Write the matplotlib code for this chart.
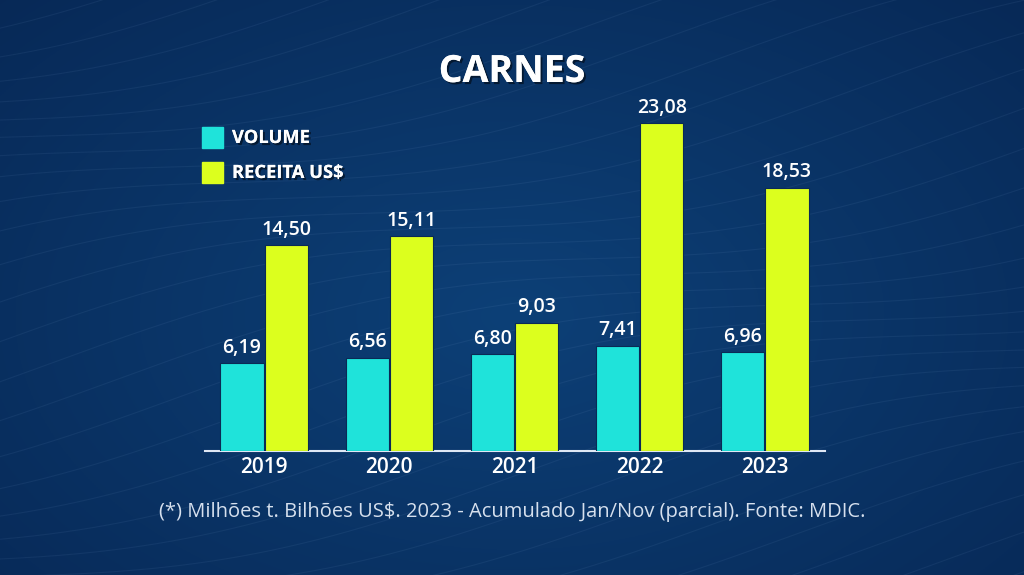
import numpy as np
import matplotlib
matplotlib.use("Agg")
import matplotlib.pyplot as plt
import matplotlib.patheffects as pe

years = ["2019", "2020", "2021", "2022", "2023"]
volume = [6.19, 6.56, 6.80, 7.41, 6.96]
receita = [14.50, 15.11, 9.03, 23.08, 18.53]
volume_labels = ["6,19", "6,56", "6,80", "7,41", "6,96"]
receita_labels = ["14,50", "15,11", "9,03", "23,08", "18,53"]
title = "CARNES"
legend_labels = ["VOLUME", "RECEITA US$"]
footer = "(*) Milhões t. Bilhões US$. 2023 - Acumulado Jan/Nov (parcial). Fonte: MDIC."

C_VOL = "#1fe3da"
C_REC = "#dcff1e"
FONT = ["Open Sans", "DejaVu Sans"]

W, H = 1024, 575
fig = plt.figure(figsize=(W / 100, H / 100), dpi=100)

# background gradient
bg = fig.add_axes([0, 0, 1, 1])
yy, xx = np.mgrid[0:1:300j, 0:1:500j]
r = np.sqrt(((xx - 0.5) / 0.85) ** 2 + ((yy - 0.45) / 0.95) ** 2)
c0 = np.array([0x0d, 0x40, 0x77]) / 255
c1 = np.array([0x06, 0x24, 0x50]) / 255
t = np.clip(r, 0, 1)[..., None]
img = c0 * (1 - t) + c1 * t
bg.imshow(img, extent=[0, 1, 0, 1], aspect="auto", origin="lower")
# subtle decorative wavy lines
xs = np.linspace(0, 1, 400)
for k in range(34):
    base = -0.4 + k * 0.05
    ys = base + 0.35 * xs + 0.05 * np.sin(xs * 6 + k * 0.4)
    bg.plot(xs, ys, color="#8fb3e0", alpha=0.08, lw=0.8)
bg.set_xlim(0, 1)
bg.set_ylim(0, 1)
bg.axis("off")

ax = fig.add_axes([205 / W, (H - 451) / H, 620 / W, 351 / H])
ax.patch.set_alpha(0)
x = np.arange(len(years))
bw = 0.345
off = 0.176
ax.bar(x - off, volume, width=bw, color=C_VOL, edgecolor="#0a2a55", linewidth=0.8, zorder=3)
ax.bar(x + off, receita, width=bw, color=C_REC, edgecolor="#0a2a55", linewidth=0.8, zorder=3)
ax.set_xlim(-0.472, 4.48)
ax.set_ylim(0, 351 / 14.2)
for s in ["top", "right", "left"]:
    ax.spines[s].set_visible(False)
ax.spines["bottom"].set_color("#dfe8f5")
ax.spines["bottom"].set_linewidth(1.5)
ax.set_yticks([])
ax.set_xticks(x)
ax.set_xticklabels(years, color="white", fontsize=15, fontweight="semibold", family=FONT)
ax.tick_params(axis="x", length=0, pad=4)

for xi, v, lab in zip(x - off, volume, volume_labels):
    ax.annotate(lab, (xi, v), xytext=(0, 4), textcoords="offset points", ha="center",
                va="bottom", color="white", fontsize=14, fontweight="semibold", family=FONT)
for xi, v, lab in zip(x + off, receita, receita_labels):
    ax.annotate(lab, (xi, v), xytext=(0, 4), textcoords="offset points", ha="center",
                va="bottom", color="white", fontsize=14, fontweight="semibold", family=FONT)

shadow = [pe.withSimplePatchShadow(offset=(1.5, -1.5), shadow_rgbFace="black", alpha=0.5), pe.Normal()]
fig.text(512 / W, 1 - 72 / H, title, ha="center", va="center", color="white",
         fontsize=27, fontweight="bold", family=FONT, path_effects=shadow)

# legend
for i, (lab, col) in enumerate(zip(legend_labels, [C_VOL, C_REC])):
    yc = 138 + i * 35
    fig.patches.append(plt.Rectangle((202 / W, 1 - (yc + 10) / H), 21 / W, 21 / H,
                                     transform=fig.transFigure, color=col, zorder=5))
    fig.text(232 / W, 1 - yc / H, lab, ha="left", va="center", color="white",
             fontsize=13.2, fontweight="bold", family=FONT, path_effects=shadow)

fig.text(512 / W, 1 - 512 / H, footer, ha="center", va="center", color="#d6e0ee",
         fontsize=14.5, family=FONT)

fig.savefig("out.png", dpi=100)
